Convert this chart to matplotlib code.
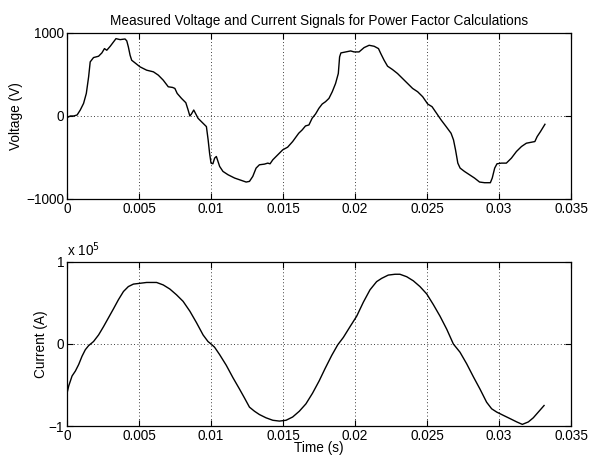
import matplotlib
matplotlib.use("Agg")
import matplotlib.pyplot as plt
import numpy as np

plt.rcParams['font.family'] = ['Liberation Sans', 'DejaVu Sans']

# Voltage signal (time in s, voltage in V)
t_v = [0.0, 0.00023, 0.00046, 0.0007, 0.00092, 0.00115, 0.00134, 0.0015, 0.00161, 0.00184,
       0.00219, 0.00242, 0.0026, 0.00276, 0.003, 0.00323, 0.0034, 0.00369, 0.00403, 0.00415,
       0.00426, 0.00438, 0.00449, 0.00472, 0.00507, 0.00553, 0.006, 0.00634, 0.00668, 0.00703,
       0.00733, 0.00749, 0.00765, 0.00795, 0.00825, 0.00841, 0.00853, 0.00864, 0.0088, 0.00894,
       0.0091, 0.00945, 0.00968, 0.0098, 0.0099, 0.01, 0.01013, 0.01025, 0.01037, 0.0106,
       0.01083, 0.01118, 0.01164, 0.0121, 0.01244, 0.01267, 0.0129, 0.01313, 0.01336, 0.01371,
       0.01394, 0.0141, 0.01429, 0.01463, 0.01498, 0.01532, 0.01567, 0.01609, 0.01633, 0.01656,
       0.0168, 0.01702, 0.01726, 0.01749, 0.01772, 0.01795, 0.01819, 0.01842, 0.01865, 0.01884,
       0.01893, 0.01902, 0.01935, 0.0197, 0.01993, 0.02028, 0.02063, 0.02098, 0.02133, 0.02163,
       0.02179, 0.02202, 0.02226, 0.0226, 0.02295, 0.0233, 0.02365, 0.024, 0.02435, 0.0247,
       0.02505, 0.02535, 0.02563, 0.02598, 0.02633, 0.02667, 0.02684, 0.02698, 0.02714, 0.0273,
       0.0276, 0.02795, 0.0283, 0.02865, 0.029, 0.0294, 0.02953, 0.0297, 0.02986, 0.03016,
       0.03051, 0.03086, 0.03121, 0.03156, 0.0319, 0.03214, 0.03249, 0.03265, 0.03288, 0.03319]
voltage = [-20, 0, 0, 12, 72, 152, 272, 472, 652, 704,
           720, 760, 812, 792, 840, 892, 932, 920, 928, 905,
           832, 732, 672, 640, 592, 552, 532, 492, 432, 352,
           344, 332, 272, 212, 160, 72, 0, 24, 72, 24,
           -28, -88, -128, -288, -448, -568, -576, -508, -488, -608,
           -668, -708, -748, -776, -796, -788, -728, -628, -588, -580,
           -568, -576, -528, -468, -408, -376, -308, -208, -168, -120,
           -108, -28, 24, 92, 144, 172, 212, 292, 392, 512,
           712, 760, 772, 784, 772, 772, 824, 852, 840, 812,
           752, 672, 600, 560, 512, 452, 392, 332, 292, 232,
           144, 112, 40, -48, -128, -208, -288, -408, -568, -628,
           -668, -708, -748, -796, -804, -804, -748, -628, -576, -568,
           -568, -508, -428, -368, -328, -320, -308, -248, -188, -100]

# Current signal (time in s, current in units of 1e5 A)
t_i = [0.0, 0.00012, 0.00035, 0.00058, 0.00081, 0.00104, 0.00127, 0.0015, 0.00184, 0.00219,
       0.00253, 0.00288, 0.00323, 0.00357, 0.00392, 0.00426, 0.00461, 0.00507, 0.00553, 0.00622,
       0.00668, 0.00714, 0.0076, 0.00806, 0.00853, 0.00899, 0.00945, 0.00979, 0.01, 0.01025,
       0.0106, 0.01106, 0.01152, 0.01198, 0.01233, 0.01267, 0.01302, 0.01336, 0.01382, 0.01429,
       0.01475, 0.01521, 0.01567, 0.01613, 0.01659, 0.01705, 0.01751, 0.01792, 0.01838, 0.0188,
       0.01919, 0.01965, 0.02012, 0.02058, 0.02104, 0.0215, 0.02185, 0.02231, 0.02278, 0.02312,
       0.02359, 0.02405, 0.02451, 0.02498, 0.02544, 0.0259, 0.02637, 0.02683, 0.02729, 0.02775,
       0.02822, 0.02868, 0.02914, 0.02949, 0.02984, 0.0303, 0.03077, 0.03123, 0.03162, 0.03204,
       0.03238, 0.03273, 0.03313]
current = [-0.60, -0.51, -0.39, -0.33, -0.25, -0.15, -0.07, -0.02, 0.03, 0.11,
           0.21, 0.32, 0.43, 0.54, 0.64, 0.70, 0.73, 0.74, 0.75, 0.75,
           0.72, 0.67, 0.60, 0.52, 0.40, 0.26, 0.11, 0.03, 0.0, -0.04,
           -0.13, -0.26, -0.41, -0.55, -0.66, -0.77, -0.82, -0.86, -0.90, -0.93,
           -0.94, -0.93, -0.89, -0.82, -0.73, -0.60, -0.45, -0.30, -0.14, -0.01,
           0.08, 0.21, 0.34, 0.51, 0.66, 0.76, 0.80, 0.84, 0.85, 0.85,
           0.82, 0.77, 0.70, 0.61, 0.48, 0.34, 0.18, 0.0, -0.10, -0.24,
           -0.40, -0.55, -0.71, -0.79, -0.83, -0.87, -0.91, -0.95, -0.98, -0.95,
           -0.90, -0.83, -0.75]

x_ticks = [0, 0.005, 0.01, 0.015, 0.02, 0.025, 0.03, 0.035]
x_ticklabels = ['0', '0.005', '0.01', '0.015', '0.02', '0.025', '0.03', '0.035']
v_ticks = [-1000, 0, 1000]
i_ticks = [-1, 0, 1]

fig = plt.figure(figsize=(5.9, 4.57), dpi=100)
ax1 = fig.add_axes([0.1136, 0.5646, 0.8542, 0.3632])
ax2 = fig.add_axes([0.1136, 0.0678, 0.8542, 0.3590])

fs = 9.8
for ax in (ax1, ax2):
    ax.set_xlim(0, 0.035)
    ax.set_xticks(x_ticks)
    ax.set_xticklabels(x_ticklabels)
    ax.grid(True, linestyle=(0, (1, 3)), color='black', linewidth=0.6)
    ax.tick_params(direction='in', top=True, right=True, labelsize=fs, length=4, width=0.8, pad=2)
    for s in ax.spines.values():
        s.set_linewidth(0.9)

ax1.plot(t_v, voltage, color='black', linewidth=1.0)
ax1.set_ylim(-1000, 1000)
ax1.set_yticks(v_ticks)
ax1.set_ylabel('Voltage (V)', fontsize=fs, labelpad=2)
ax1.set_title('Measured Voltage and Current Signals for Power Factor Calculations', fontsize=fs, pad=6)

ax2.plot(t_i, current, color='black', linewidth=1.0)
ax2.set_ylim(-1, 1)
ax2.set_yticks(i_ticks)
ax2.set_ylabel('Current (A)', fontsize=fs, labelpad=0.5)
ax2.set_xlabel('Time (s)', fontsize=fs, labelpad=-1)
ax2.text(0.0, 1.02, r'x 10$^5$', transform=ax2.transAxes, fontsize=fs, ha='left', va='bottom')

fig.savefig('out.png', dpi=100)
